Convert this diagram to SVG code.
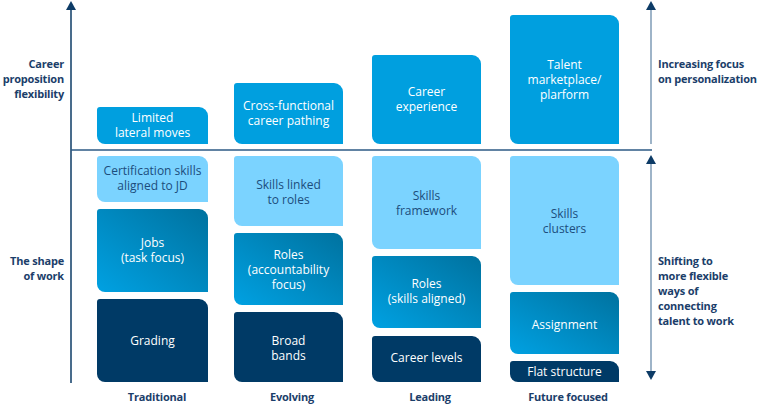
<svg xmlns="http://www.w3.org/2000/svg" width="760" height="405" viewBox="0 0 760 405">
<defs>
<linearGradient id="mid" x1="0" y1="1" x2="1" y2="0">
<stop offset="0" stop-color="#00a1e2"/>
<stop offset="1" stop-color="#00729f"/>
</linearGradient>
</defs>
<style>
text{font-family:"Open Sans","Noto Sans","Liberation Sans",sans-serif;font-size:12px;text-anchor:middle}
.top{fill:#009fdf}
.light{fill:#7bd3ff}
.mid{fill:url(#mid)}
.dark{fill:#003a66}
.tw{fill:#ffffff}
.td{fill:#1c4d7c}
.lab{fill:#1b3e6a;font-weight:700;font-size:11px;letter-spacing:-0.2px}
.end{text-anchor:end}
.start{text-anchor:start}
.head{fill:#0d3b66}
.ax{stroke:#0d3b66;stroke-width:1.5;fill:none}
.ax2{stroke:#7e9bb6;stroke-width:1.5;fill:none}
</style>
<g id="connectors">
<line class="ax" x1="71" y1="383" x2="71" y2="9"/>
<polygon class="head" points="71,1 76,10 66,10"/>
<line x1="71" y1="150" x2="652" y2="150" stroke="#2d5a84" stroke-width="1.5"/>
<line class="ax2" x1="651" y1="144" x2="651" y2="9"/>
<polygon class="head" points="651,1 656,10 646,10"/>
<line class="ax2" x1="651" y1="163" x2="651" y2="372"/>
<polygon class="head" points="651,155 656,164 646,164"/>
<polygon class="head" points="651,380 656,371 646,371"/>
</g>
<g id="label-career"><text class="lab end" x="64" y="68">Career</text><text class="lab end" x="64" y="83">proposition</text><text class="lab end" x="64" y="98">flexibility</text></g>
<g id="label-shape"><text class="lab end" x="64" y="265">The shape</text><text class="lab end" x="64" y="280">of work</text></g>
<g id="label-increasing"><text class="lab start" x="658" y="68">Increasing focus</text><text class="lab start" x="658" y="83">on personalization</text></g>
<g id="label-shifting"><text class="lab start" x="658" y="265">Shifting to</text><text class="lab start" x="658" y="280">more flexible</text><text class="lab start" x="658" y="295">ways of</text><text class="lab start" x="658" y="310">connecting</text><text class="lab start" x="658" y="325">talent to work</text></g>
<g id="label-traditional"><text class="lab" x="157" y="401">Traditional</text></g>
<g id="label-evolving"><text class="lab" x="292" y="401">Evolving</text></g>
<g id="label-leading"><text class="lab" x="430" y="401">Leading</text></g>
<g id="label-future"><text class="lab" x="568" y="401">Future focused</text></g>

<g id="n-limited"><path class="top" d="M100,107 H199 A9,9 0 0 1 208,116 V144 H105 A8,8 0 0 1 97,136 V110 A3,3 0 0 1 100,107 Z"/><text class="tw" x="152.5" y="122">Limited</text><text class="tw" x="152.5" y="137">lateral moves</text></g>
<g id="n-certification"><path class="light" d="M100,156 H199 A9,9 0 0 1 208,165 V202 H105 A8,8 0 0 1 97,194 V159 A3,3 0 0 1 100,156 Z"/><text class="td" x="152.5" y="175">Certification skills</text><text class="td" x="152.5" y="190">aligned to JD</text></g>
<g id="n-jobs"><path class="mid" d="M100,209 H199 A9,9 0 0 1 208,218 V292 H105 A8,8 0 0 1 97,284 V212 A3,3 0 0 1 100,209 Z"/><text class="tw" x="152.5" y="247">Jobs</text><text class="tw" x="152.5" y="262">(task focus)</text></g>
<g id="n-grading"><path class="dark" d="M100,299 H199 A9,9 0 0 1 208,308 V382 H105 A8,8 0 0 1 97,374 V302 A3,3 0 0 1 100,299 Z"/><text class="tw" x="152.5" y="345">Grading</text></g>

<g id="n-crossfunctional"><path class="top" d="M237,83 H334 A9,9 0 0 1 343,92 V144 H242 A8,8 0 0 1 234,136 V86 A3,3 0 0 1 237,83 Z"/><text class="tw" x="288.5" y="110">Cross-functional</text><text class="tw" x="288.5" y="125">career pathing</text></g>
<g id="n-skillslinked"><path class="light" d="M237,156 H334 A9,9 0 0 1 343,165 V226 H242 A8,8 0 0 1 234,218 V159 A3,3 0 0 1 237,156 Z"/><text class="td" x="288.5" y="189">Skills linked</text><text class="td" x="288.5" y="204">to roles</text></g>
<g id="n-rolesacc"><path class="mid" d="M237,233 H334 A9,9 0 0 1 343,242 V305 H242 A8,8 0 0 1 234,297 V236 A3,3 0 0 1 237,233 Z"/><text class="tw" x="288.5" y="259">Roles</text><text class="tw" x="288.5" y="274">(accountability</text><text class="tw" x="288.5" y="289">focus)</text></g>
<g id="n-broad"><path class="dark" d="M237,312 H334 A9,9 0 0 1 343,321 V382 H242 A8,8 0 0 1 234,374 V315 A3,3 0 0 1 237,312 Z"/><text class="tw" x="288.5" y="345">Broad</text><text class="tw" x="288.5" y="360">bands</text></g>

<g id="n-careerexp"><path class="top" d="M375,55 H472 A9,9 0 0 1 481,64 V144 H380 A8,8 0 0 1 372,136 V58 A3,3 0 0 1 375,55 Z"/><text class="tw" x="426.5" y="96">Career</text><text class="tw" x="426.5" y="111">experience</text></g>
<g id="n-skillsframework"><path class="light" d="M375,156 H472 A9,9 0 0 1 481,165 V249 H380 A8,8 0 0 1 372,241 V159 A3,3 0 0 1 375,156 Z"/><text class="td" x="426.5" y="200">Skills</text><text class="td" x="426.5" y="215">framework</text></g>
<g id="n-rolesskills"><path class="mid" d="M375,256 H472 A9,9 0 0 1 481,265 V328 H380 A8,8 0 0 1 372,320 V259 A3,3 0 0 1 375,256 Z"/><text class="tw" x="426.5" y="288">Roles</text><text class="tw" x="426.5" y="303">(skills aligned)</text></g>
<g id="n-careerlevels"><path class="dark" d="M375,336 H472 A9,9 0 0 1 481,345 V382 H380 A8,8 0 0 1 372,374 V339 A3,3 0 0 1 375,336 Z"/><text class="tw" x="426.5" y="362">Career levels</text></g>

<g id="n-talent"><path class="top" d="M513,15 H610 A9,9 0 0 1 619,24 V144 H518 A8,8 0 0 1 510,136 V18 A3,3 0 0 1 513,15 Z"/><text class="tw" x="564.5" y="69">Talent</text><text class="tw" x="564.5" y="84">marketplace/</text><text class="tw" x="564.5" y="99">plarform</text></g>
<g id="n-skillsclusters"><path class="light" d="M513,156 H610 A9,9 0 0 1 619,165 V285 H518 A8,8 0 0 1 510,277 V159 A3,3 0 0 1 513,156 Z"/><text class="td" x="564.5" y="218">Skills</text><text class="td" x="564.5" y="233">clusters</text></g>
<g id="n-assignment"><path class="mid" d="M513,292 H610 A9,9 0 0 1 619,301 V354 H518 A8,8 0 0 1 510,346 V295 A3,3 0 0 1 513,292 Z"/><text class="tw" x="564.5" y="329">Assignment</text></g>
<g id="n-flat"><path class="dark" d="M513,361 H610 A9,9 0 0 1 619,370 V382 H518 A8,8 0 0 1 510,374 V364 A3,3 0 0 1 513,361 Z"/><text class="tw" x="564.5" y="376">Flat structure</text></g>
</svg>
